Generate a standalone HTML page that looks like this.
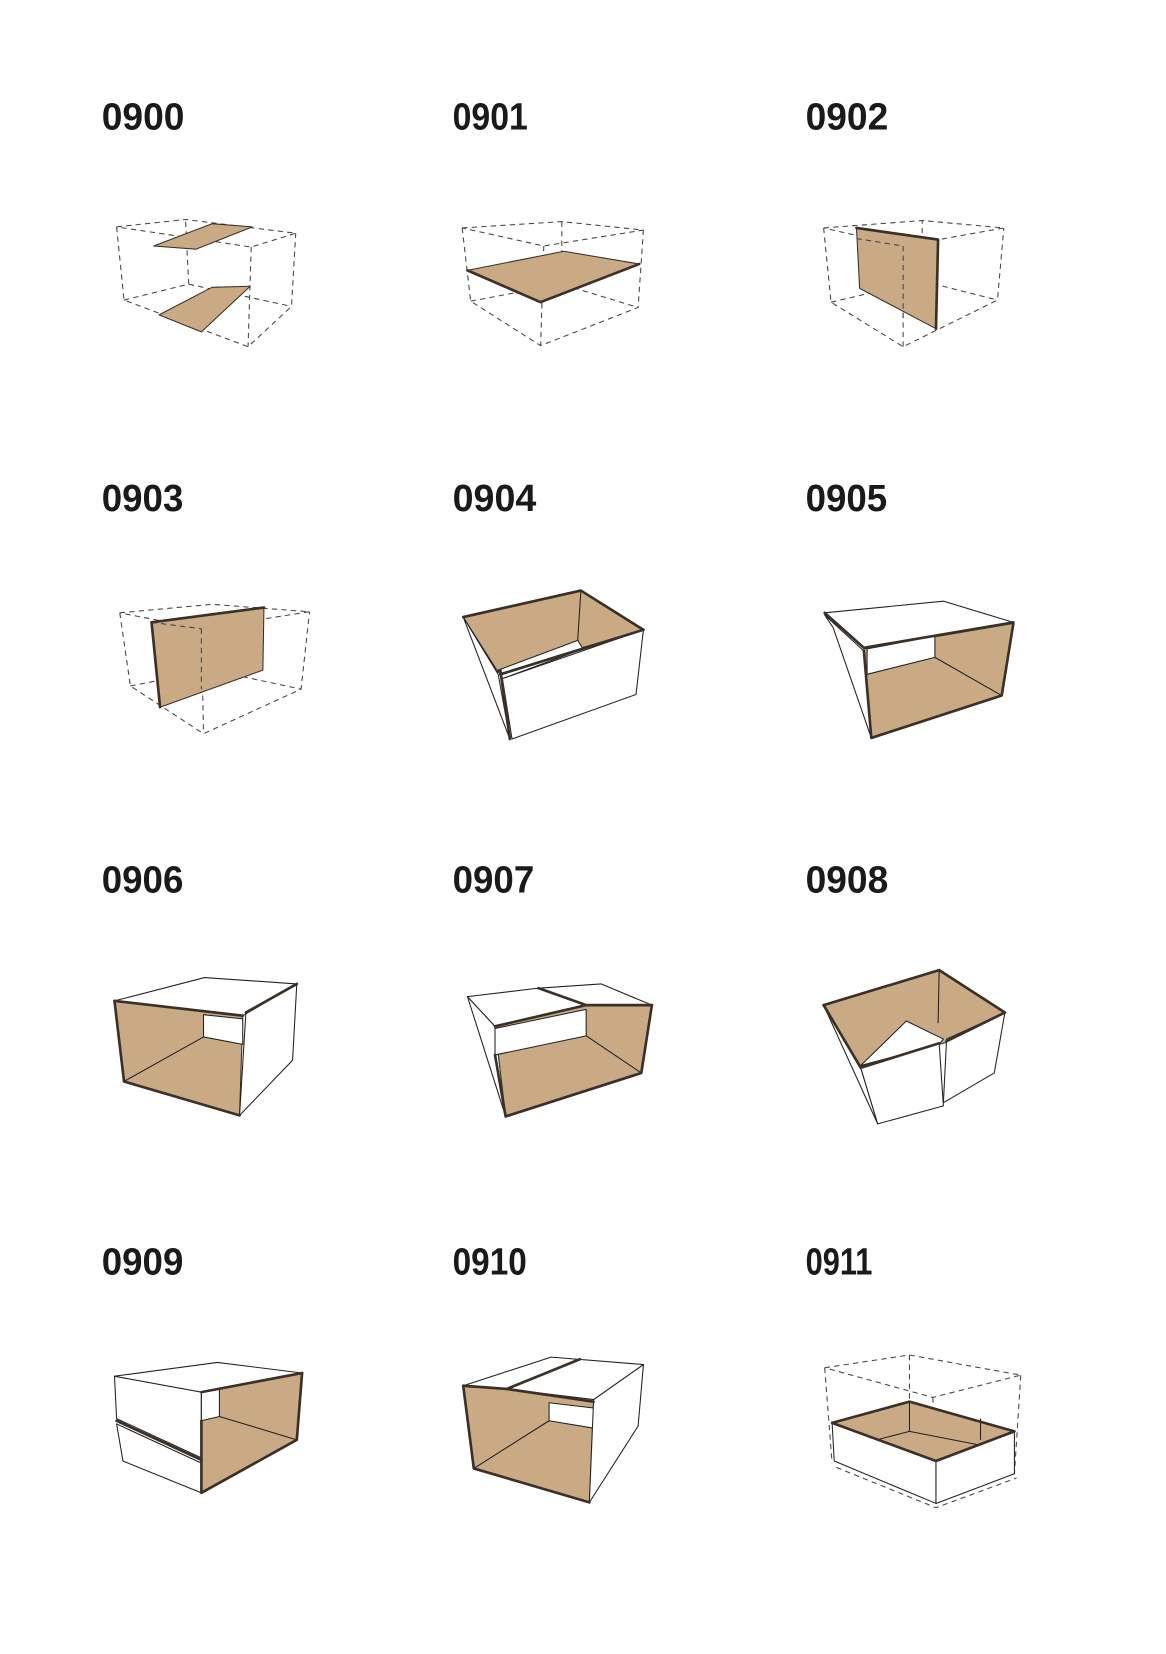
<!DOCTYPE html>
<html><head><meta charset="utf-8"><style>
html,body{margin:0;padding:0;background:#fff;}
svg{display:block;}
text{font-family:"Liberation Sans Narrow","Liberation Sans",sans-serif;font-weight:bold;font-size:36px;fill:#1a1a1a;}
.t{fill:#c9aa85;stroke:#3a3028;stroke-width:1;stroke-linejoin:round}
.w{fill:#fff;stroke:#222;stroke-width:1;stroke-linejoin:round}
.d{fill:none;stroke:#444;stroke-width:1;stroke-dasharray:5 4}
.k{fill:none;stroke:#3a3028;stroke-width:2.5;stroke-linejoin:round;stroke-linecap:round}
.l{fill:none;stroke:#222;stroke-width:1}
</style></head><body>
<svg width="1166" height="1654" viewBox="0 0 1100 1560" preserveAspectRatio="none" xmlns="http://www.w3.org/2000/svg">
<g>
<text x="96" y="122" textLength="78" lengthAdjust="spacingAndGlyphs">0900</text>
<text x="427" y="122" textLength="71" lengthAdjust="spacingAndGlyphs">0901</text>
<text x="760" y="122" textLength="78" lengthAdjust="spacingAndGlyphs">0902</text>
<text x="96" y="482" textLength="77" lengthAdjust="spacingAndGlyphs">0903</text>
<text x="427" y="482" textLength="79" lengthAdjust="spacingAndGlyphs">0904</text>
<text x="760" y="482" textLength="77" lengthAdjust="spacingAndGlyphs">0905</text>
<text x="96" y="842" textLength="77" lengthAdjust="spacingAndGlyphs">0906</text>
<text x="427" y="842" textLength="77" lengthAdjust="spacingAndGlyphs">0907</text>
<text x="760" y="842" textLength="78" lengthAdjust="spacingAndGlyphs">0908</text>
<text x="96" y="1202" textLength="77" lengthAdjust="spacingAndGlyphs">0909</text>
<text x="427" y="1202" textLength="70" lengthAdjust="spacingAndGlyphs">0910</text>
<text x="760" y="1202" textLength="63" lengthAdjust="spacingAndGlyphs">0911</text>
</g>

<!-- 0900 -->
<g>
<polygon class="d" points="110,214 175,207 279,220 237,233"/>
<polyline class="d" points="110,214 117,283 234,327 275,289 279,220"/>
<line class="d" x1="237" y1="233" x2="234" y2="327"/>
<polyline class="d" points="117,283 178,268 275,289"/>
<line class="d" x1="178" y1="268" x2="175" y2="207"/>
<polygon class="t" points="145,232 200,211 238,214 185,235"/>
<polygon class="t" points="150,297 200,271 236,270 190,313"/>
</g>

<!-- 0901 -->
<g>
<polygon class="d" points="436,215 530,209 607,217 513,232"/>
<polyline class="d" points="436,215 444,284 510,326 602,290 607,217"/>
<line class="d" x1="513" y1="232" x2="510" y2="326"/>
<polyline class="d" points="444,284 530,268 602,290"/>
<line class="d" x1="530" y1="268" x2="530" y2="209"/>
<polygon class="t" points="441,255 532,237 603,249 510,285"/>
<polyline class="k" points="441,255 510,285 603,249"/>
</g>

<!-- 0902 -->
<g>
<polygon class="d" points="777,215 870,208 947,215 852,232"/>
<polyline class="d" points="777,215 784,285 852,327 941,283 947,215"/>
<line class="d" x1="852" y1="232" x2="852" y2="327"/>
<polyline class="d" points="784,285 870,265 941,283"/>
<line class="d" x1="870" y1="265" x2="870" y2="208"/>
<polygon class="t" points="808,215 885,226 883,310 811,272"/>
<line class="d" x1="808" y1="225" x2="852" y2="232"/>
<line class="d" x1="852" y1="232" x2="852" y2="300"/>
<polyline class="k" points="808,215 885,226 883,310"/>
</g>

<!-- 0903 -->
<g>
<polygon class="d" points="113,578 200,570 292,577 190,593"/>
<polyline class="d" points="113,578 123,647 192,692 284,650 292,577"/>
<line class="d" x1="190" y1="593" x2="192" y2="692"/>
<polyline class="d" points="123,647 200,632 284,650"/>
<polygon class="t" points="143,587 249,573 248,632 151,667"/>
<line class="d" x1="143" y1="587" x2="190" y2="593"/>
<line class="d" x1="190" y1="593" x2="190" y2="650"/>
<polyline class="k" points="143,587 249,573"/>
<line class="k" x1="143" y1="587" x2="151" y2="667"/>
</g>

<!-- 0904 -->
<g>
<polygon class="t" points="437,582 548,557 607,594 470,634"/>
<polygon class="w" points="470,632 545,604 550,612 474,640"/>
<line class="l" x1="545" y1="604" x2="548" y2="557"/>
<polygon class="w" points="437,582 470,636 481,697"/>
<polygon class="w" points="474,640 607,594 600,655 483,697"/>
<polyline class="k" points="437,582 548,557 607,594"/>
<line class="k" x1="472" y1="632" x2="481" y2="697"/>
<line class="k" x1="472" y1="636" x2="607" y2="594"/>
</g>

<!-- 0905 -->
<g>
<polygon class="w" points="778,580 815,614 822,696 786,592"/>
<polygon class="t" points="815,612 956,588 945,656 822,696"/>
<polygon class="w" points="818,612 882,600 882,620 818,636"/>
<line class="l" x1="882" y1="620" x2="945" y2="656"/>
<polygon class="w" points="778,578 890,567 956,587 815,611"/>
<polyline class="k" points="778,578 815,611 956,587"/>
<polyline class="k" points="815,614 822,696 945,656 956,588"/>
</g>

<!-- 0906 -->
<g>
<polygon class="t" points="108,944 229,958 226,1052 117,1020"/>
<polygon class="w" points="192,957 229,961 229,985 192,978"/>
<line class="l" x1="192" y1="978" x2="117" y2="1020"/>
<polygon class="w" points="232,955 280,928 276,1000 226,1052"/>
<polygon class="w" points="108,944 193,922 280,928 229,958"/>
<polyline class="k" points="108,944 229,958"/>
<polyline class="k" points="108,944 117,1020 226,1052"/>
<line class="k" x1="232" y1="955" x2="280" y2="928"/>
</g>

<!-- 0907 -->
<g>
<polygon class="w" points="441,940 467,968 477,1053"/>
<polygon class="t" points="467,968 553,948 615,948 605,1012 477,1053"/>
<polygon class="w" points="467,970 553,952 553,977 467,995"/>
<line class="l" x1="553" y1="977" x2="605" y2="1012"/>
<polygon class="w" points="441,940 508,932 553,948 467,968"/>
<polygon class="w" points="508,932 567,928 615,948 553,948"/>
<line class="k" x1="508" y1="932" x2="553" y2="948"/>
<polyline class="k" points="467,968 553,948 615,948"/>
<polyline class="k" points="467,995 477,1053 605,1012 615,948"/>
</g>

<!-- 0908 -->
<g>
<polygon class="t" points="777,948 886,915 948,955 893,983 812,1007"/>
<polygon class="w" points="812,1005 855,963 890,980 886,985"/>
<line class="l" x1="886" y1="915" x2="885" y2="965"/>
<polygon class="w" points="777,948 812,1007 828,1060"/>
<polygon class="w" points="812,1007 886,984 890,1043 828,1060"/>
<polygon class="w" points="893,980 948,955 938,1012 890,1040"/>
<polyline class="k" points="777,948 886,915 948,955 893,982"/>
<polyline class="k" points="777,948 812,1007 886,984"/>
</g>

<!-- 0909 -->
<g>
<polygon class="w" points="108,1298 190,1313 190,1375 110,1338"/>
<polygon class="w" points="110,1343 190,1380 190,1408 116,1378"/>
<polygon class="t" points="190,1313 285,1295 280,1358 190,1408"/>
<polygon class="w" points="190,1313 207,1310 207,1336 190,1340"/>
<line class="l" x1="207" y1="1336" x2="280" y2="1358"/>
<polygon class="w" points="108,1298 205,1285 285,1295 190,1313"/>
<line class="k" x1="110" y1="1340" x2="190" y2="1377"/>
<line class="k" x1="190" y1="1313" x2="285" y2="1295"/>
<polyline class="k" points="285,1295 280,1358 190,1408 190,1340"/>
</g>

<!-- 0910 -->
<g>
<polygon class="t" points="437,1307 478,1310 560,1322 556,1417 447,1385"/>
<polygon class="w" points="518,1323 560,1328 560,1347 518,1340"/>
<line class="l" x1="518" y1="1340" x2="447" y2="1385"/>
<polygon class="w" points="560,1320 607,1287 602,1345 556,1417"/>
<polygon class="w" points="437,1307 520,1280 607,1287 560,1320 478,1310"/>
<line class="k" x1="478" y1="1310" x2="547" y2="1282"/>
<polyline class="k" points="437,1307 478,1310 560,1322"/>
<polyline class="k" points="437,1307 447,1385 556,1417"/>
</g>

<!-- 0911 -->
<g>
<polygon class="d" points="778,1290 858,1278 963,1297 880,1318"/>
<line class="d" x1="778" y1="1290" x2="785" y2="1380"/>
<line class="d" x1="963" y1="1297" x2="957" y2="1390"/>
<line class="d" x1="880" y1="1318" x2="883" y2="1378"/>
<line class="d" x1="858" y1="1278" x2="858" y2="1322"/>
<polygon class="t" points="785,1342 858,1322 957,1350 883,1378"/>
<polyline class="l" points="858,1322 858,1350 800,1365"/>
<line class="l" x1="858" y1="1350" x2="935" y2="1365"/>
<line class="l" x1="925" y1="1338" x2="925" y2="1358"/>
<polygon class="w" points="785,1342 883,1378 883,1418 787,1378"/>
<polygon class="w" points="883,1378 957,1350 957,1390 883,1418"/>
<polyline class="k" points="785,1342 858,1322 957,1350 883,1378 785,1342"/>
<polyline class="d" points="789,1384 883,1422 959,1394"/>
</g>
</svg>
</body></html>
